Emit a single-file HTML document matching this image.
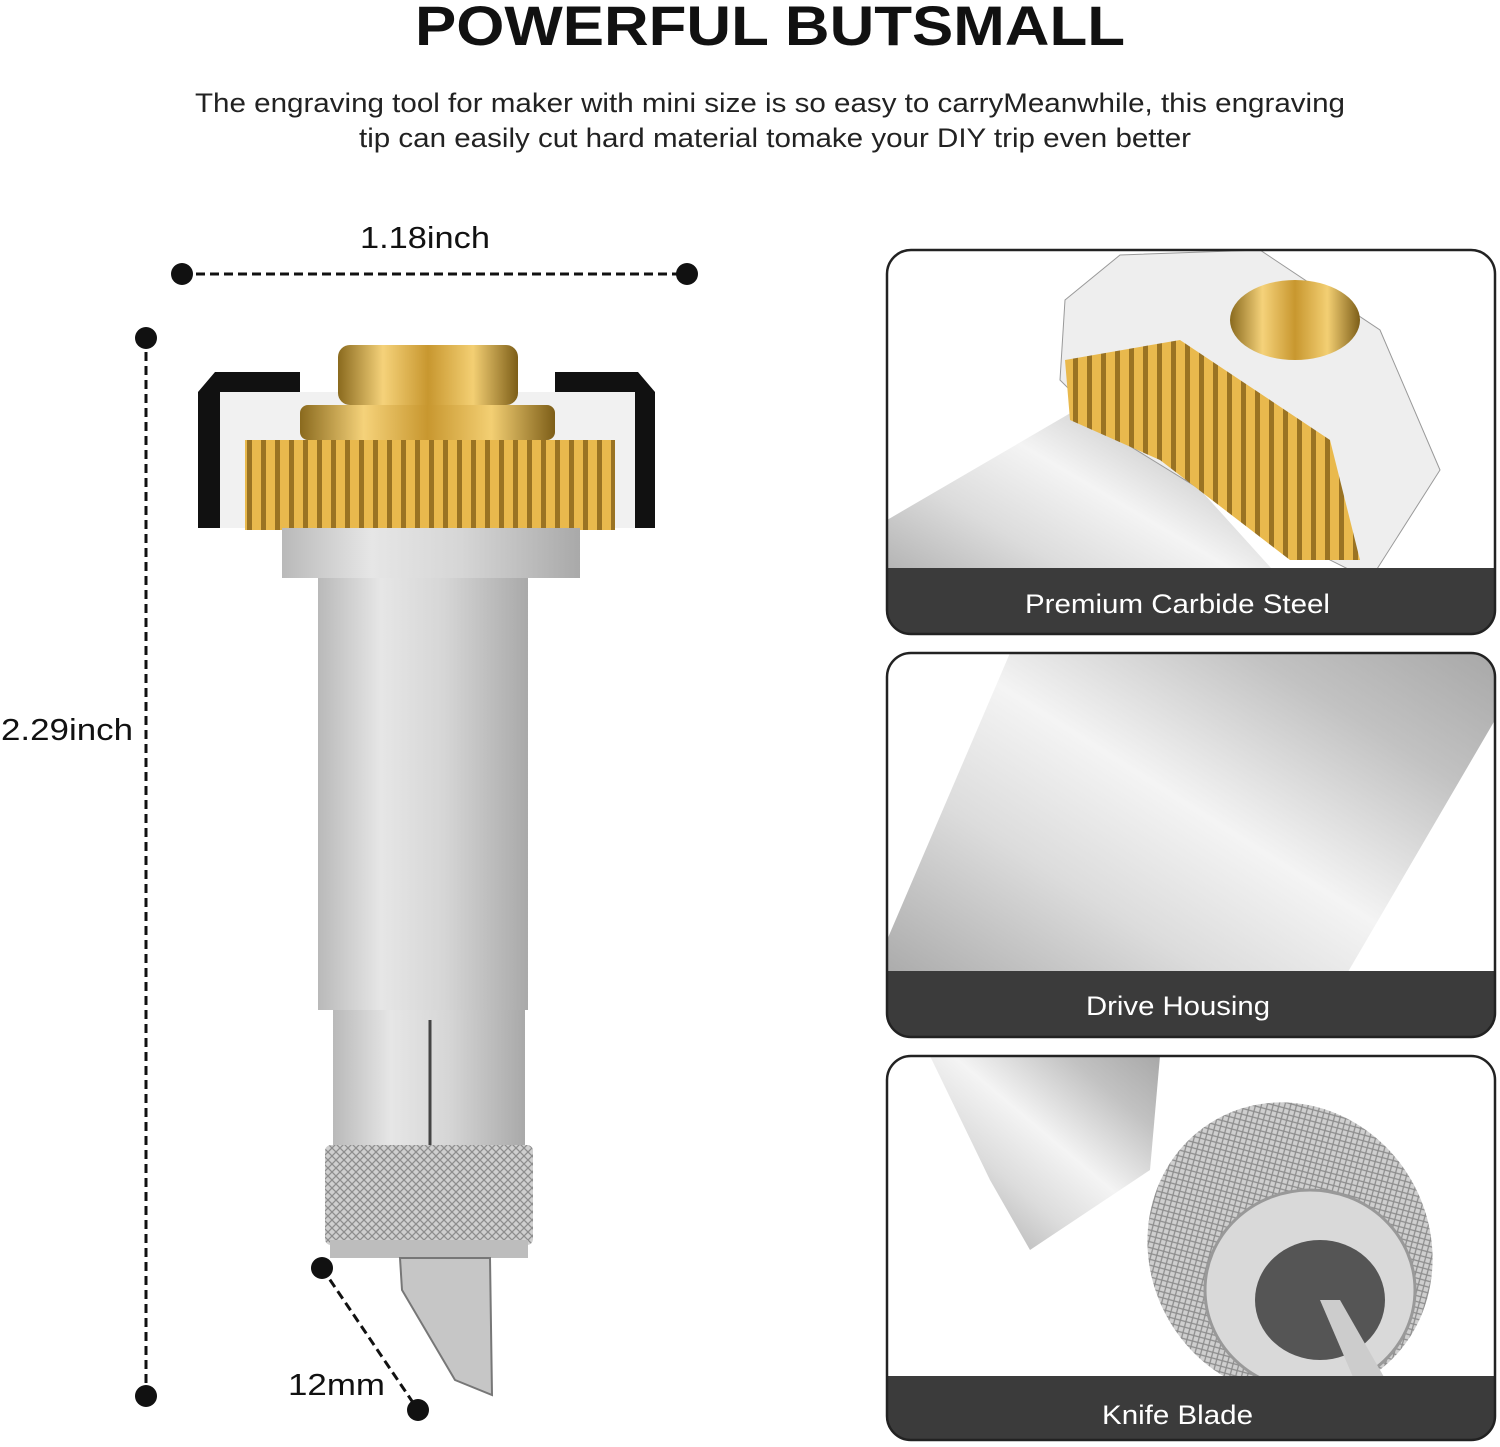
<!DOCTYPE html>
<html><head><meta charset="utf-8"><style>
html,body{margin:0;padding:0;background:#fff;}
body{width:1500px;height:1447px;position:relative;overflow:hidden;font-family:"Liberation Sans",sans-serif;}
</style></head><body>
<svg width="1500" height="1447" viewBox="0 0 1500 1447" xmlns="http://www.w3.org/2000/svg" style="position:absolute;left:0;top:0">
<defs>
<linearGradient id="silv" x1="0" x2="1" y1="0" y2="0">
<stop offset="0" stop-color="#b9b9b9"/><stop offset="0.3" stop-color="#e6e6e6"/><stop offset="0.6" stop-color="#d6d6d6"/><stop offset="1" stop-color="#a9a9a9"/></linearGradient>
<linearGradient id="gold" x1="0" x2="1" y1="0" y2="0">
<stop offset="0" stop-color="#8a6a1e"/><stop offset="0.25" stop-color="#f5d27a"/><stop offset="0.5" stop-color="#c8972f"/><stop offset="0.75" stop-color="#f3cf73"/><stop offset="1" stop-color="#7d5e18"/></linearGradient>
<pattern id="teeth" width="14" height="20" patternUnits="userSpaceOnUse"><rect width="14" height="20" fill="#e9b94d"/><rect x="9" width="5" height="20" fill="#9a7323"/></pattern>
<pattern id="knurl" width="8" height="8" patternUnits="userSpaceOnUse"><rect width="8" height="8" fill="#cfcfcf"/><path d="M0 0L8 8M8 0L0 8" stroke="#8d8d8d" stroke-width="1.3"/></pattern>
<linearGradient id="diag" x1="0" y1="1" x2="1" y2="0">
<stop offset="0" stop-color="#9c9c9c"/><stop offset="0.35" stop-color="#dcdcdc"/><stop offset="0.55" stop-color="#f4f4f4"/><stop offset="0.8" stop-color="#c2c2c2"/><stop offset="1" stop-color="#a8a8a8"/></linearGradient>
<clipPath id="c1"><rect x="887" y="250" width="608" height="384" rx="24"/></clipPath>
<clipPath id="c2"><rect x="887" y="653" width="608" height="384" rx="24"/></clipPath>
<clipPath id="c3"><rect x="887" y="1056" width="608" height="384" rx="24"/></clipPath>
</defs>
<text x="415" y="45" font-size="56" font-weight="bold" fill="#111" textLength="710" lengthAdjust="spacingAndGlyphs">POWERFUL BUTSMALL</text>
<text x="195" y="112" font-size="27" fill="#222" textLength="1150" lengthAdjust="spacingAndGlyphs">The engraving tool for maker with mini size is so easy to carryMeanwhile, this engraving</text>
<text x="359" y="147" font-size="27" fill="#222" textLength="832" lengthAdjust="spacingAndGlyphs">tip can easily cut hard material tomake your DIY trip even better</text>
<!-- dimensions -->
<text x="360" y="248" font-size="31" fill="#111" textLength="130" lengthAdjust="spacingAndGlyphs">1.18inch</text>
<line x1="182" y1="274" x2="687" y2="274" stroke="#111" stroke-width="3" stroke-dasharray="9,5"/>
<circle cx="182" cy="274" r="11" fill="#111"/><circle cx="687" cy="274" r="11" fill="#111"/>
<line x1="146" y1="338" x2="146" y2="1396" stroke="#111" stroke-width="3" stroke-dasharray="9,5"/>
<circle cx="146" cy="338" r="11" fill="#111"/><circle cx="146" cy="1396" r="11" fill="#111"/>
<text x="1" y="740" font-size="31" fill="#111" textLength="132" lengthAdjust="spacingAndGlyphs">2.29inch</text>
<line x1="322" y1="1268" x2="418" y2="1410" stroke="#111" stroke-width="3" stroke-dasharray="9,5"/>
<circle cx="322" cy="1268" r="11" fill="#111"/><circle cx="418" cy="1410" r="11" fill="#111"/>
<text x="288" y="1395" font-size="31" fill="#111" textLength="97" lengthAdjust="spacingAndGlyphs">12mm</text>
<!-- tool -->
<path d="M198 528 L198 392 L215 372 L300 372 L300 392 L220 392 L220 528 Z" fill="#111"/>
<path d="M655 528 L655 392 L638 372 L555 372 L555 392 L635 392 L635 528 Z" fill="#111"/>
<rect x="220" y="392" width="415" height="136" fill="#f1f1f1"/>
<rect x="338" y="345" width="180" height="60" rx="12" fill="url(#gold)"/>
<rect x="300" y="405" width="255" height="35" rx="8" fill="url(#gold)"/>
<rect x="245" y="440" width="370" height="90" fill="url(#teeth)"/>
<rect x="282" y="528" width="298" height="50" fill="url(#silv)"/>
<rect x="318" y="578" width="210" height="432" fill="url(#silv)"/>
<rect x="333" y="1010" width="192" height="135" fill="url(#silv)"/>
<line x1="430" y1="1020" x2="430" y2="1145" stroke="#444" stroke-width="3"/>
<rect x="325" y="1145" width="208" height="100" rx="6" fill="url(#knurl)"/>
<rect x="330" y="1240" width="198" height="18" fill="#bdbdbd"/>
<polygon points="400,1258 490,1258 492,1395 455,1380 402,1290" fill="#c6c6c6" stroke="#777" stroke-width="2"/>
<!-- panel 1 -->
<g clip-path="url(#c1)">
<rect x="887" y="250" width="608" height="384" fill="#fff"/>
<polygon points="887,520 1110,390 1300,600 1040,634 887,634" fill="url(#diag)"/>
<polygon points="1065,300 1120,255 1260,250 1380,330 1440,470 1370,580 1250,520 1120,440 1060,380" fill="#eee" stroke="#999"/>
<polygon points="1065,360 1180,340 1330,440 1360,560 1290,560 1160,460 1070,420" fill="url(#teeth)"/>
<ellipse cx="1295" cy="320" rx="65" ry="40" fill="url(#gold)"/>
<rect x="887" y="568" width="608" height="66" fill="#3b3b3b"/>
</g>
<rect x="887" y="250" width="608" height="384" rx="24" fill="none" stroke="#222" stroke-width="2.5"/>
<text x="1025" y="613" font-size="27" fill="#fff" textLength="305" lengthAdjust="spacingAndGlyphs">Premium Carbide Steel</text>
<!-- panel 2 -->
<g clip-path="url(#c2)">
<rect x="887" y="653" width="608" height="384" fill="#fff"/>
<polygon points="887,970 887,940 1010,653 1495,653 1495,720 1310,1037 887,1037" fill="url(#diag)"/>
<rect x="887" y="971" width="608" height="66" fill="#3b3b3b"/>
</g>
<rect x="887" y="653" width="608" height="384" rx="24" fill="none" stroke="#222" stroke-width="2.5"/>
<text x="1086" y="1015" font-size="27" fill="#fff" textLength="184" lengthAdjust="spacingAndGlyphs">Drive Housing</text>
<!-- panel 3 -->
<g clip-path="url(#c3)">
<rect x="887" y="1056" width="608" height="384" fill="#fff"/>
<polygon points="930,1056 1160,1056 1150,1170 1030,1250 990,1180" fill="url(#diag)"/>
<ellipse cx="1290" cy="1250" rx="140" ry="150" fill="url(#knurl)" transform="rotate(-30 1290 1250)"/>
<ellipse cx="1310" cy="1290" rx="105" ry="100" fill="#d9d9d9" stroke="#999" stroke-width="3"/>
<ellipse cx="1320" cy="1300" rx="65" ry="60" fill="#555"/>
<polygon points="1320,1300 1340,1300 1420,1440 1380,1440" fill="#ccc"/>
<rect x="887" y="1376" width="608" height="64" fill="#3b3b3b"/>
</g>
<rect x="887" y="1056" width="608" height="384" rx="24" fill="none" stroke="#222" stroke-width="2.5"/>
<text x="1102" y="1424" font-size="27" fill="#fff" textLength="151" lengthAdjust="spacingAndGlyphs">Knife Blade</text>
</svg>
</body></html>
